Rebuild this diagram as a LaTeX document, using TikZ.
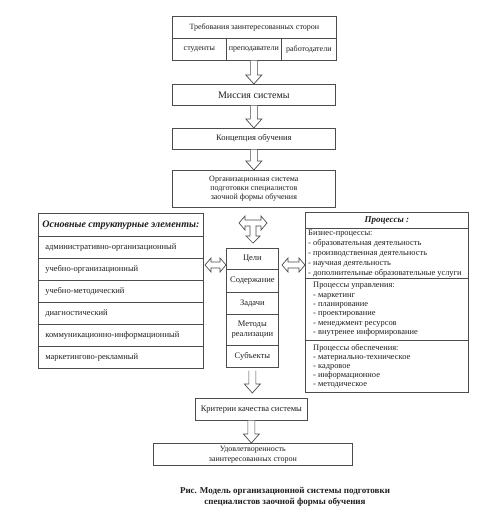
\documentclass[tikz,border=0pt]{standalone}
\usepackage{fontspec}
\setmainfont{Liberation Serif}
\usetikzlibrary{calc}
\definecolor{linec}{gray}{0.3}
\definecolor{txtc}{gray}{0.12}
\begin{document}
\begin{tikzpicture}[x=1pt,y=-1pt,
  box/.style={draw=linec, line width=0.7pt, inner sep=0pt, anchor=north west, text=txtc, align=center},
  fs8/.style={font=\fontsize{8}{9.5}\selectfont},
  fsc/.style={font=\fontsize{8.5}{10}\selectfont},
  lrow/.style={box, font=\fontsize{8.5}{10}\selectfont, minimum width=165, minimum height=22, text width=151, align=left, inner xsep=7pt},
  crow/.style={box, fsc, minimum width=52},
  psec/.style={box, minimum width=163},
  ptext/.style={anchor=north west, inner sep=0pt, align=left, text=txtc},
  blk/.style={draw=linec, line width=0.7pt, fill=white, line join=miter},
  downarr/.style={to path={let \p1=(\tikztostart), \p2=(\tikztotarget) in
     (\x1-3.5pt,\y1) -- (\x1-3.5pt,\y2+9pt) -- (\x1-8pt,\y2+9pt) -- (\x1,\y2)
     -- (\x1+8pt,\y2+9pt) -- (\x1+3.5pt,\y2+9pt) -- (\x1+3.5pt,\y1)}},
  hdbl/.style={to path={let \p1=(\tikztostart), \p2=(\tikztotarget) in
     (\x1,\y1) -- (\x1+6pt,\y1+7pt) -- (\x1+6pt,\y1+3pt) -- (\x2-6pt,\y1+3pt)
     -- (\x2-6pt,\y1+7pt) -- (\x2,\y1) -- (\x2-6pt,\y1-7pt) -- (\x2-6pt,\y1-3pt)
     -- (\x1+6pt,\y1-3pt) -- (\x1+6pt,\y1-7pt) -- cycle}}
]
\fill[white] (0,0) rectangle (487,525);
\useasboundingbox (0,0) rectangle (487,525);

% top block
\node[box, fs8, minimum width=164, minimum height=22] (req) at (172,16) {Требования заинтересованных сторон};
\node[box, fs8, minimum width=54, minimum height=22] (stud) at (172,38) {студенты};
\node[box, fs8, minimum width=55, minimum height=22] (prep) at (226,38) {преподаватели};
\node[box, fs8, minimum width=55, minimum height=22] (rab) at (281,38) {работодатели};

\node[box, font=\fontsize{10}{12}\selectfont, minimum width=163, minimum height=21] (mis) at (172,84) {Миссия системы};
\node[box, fsc, minimum width=163, minimum height=21] (conc) at (172,128) {Концепция обучения};
\node[box, font=\fontsize{8}{9}\selectfont, minimum width=163, minimum height=37] (org) at (172,170) {Организационная система\\подготовки специалистов\\заочной формы обучения};

% left block
\node[box, font=\fontsize{10}{11}\selectfont\bfseries\itshape, minimum width=165, minimum height=23] (lhead) at (38,213) {Основные структурные элементы:};
\node[lrow] (l1) at (38,236) {административно-организационный};
\node[lrow] (l2) at (38,258) {учебно-организационный};
\node[lrow] (l3) at (38,280) {учебно-методический};
\node[lrow] (l4) at (38,302) {диагностический};
\node[lrow] (l5) at (38,324) {коммуникационно-информационный};
\node[lrow] (l6) at (38,346) {маркетингово-рекламный};

% centre block
\node[crow, minimum height=21] (goal) at (226,248) {Цели};
\node[crow, minimum height=23] (cont) at (226,269) {Содержание};
\node[crow, minimum height=22] (task) at (226,292) {Задачи};
\node[crow, minimum height=31] (meth) at (226,314) {Методы\\реализации};
\node[crow, minimum height=22] (subj) at (226,345) {Субъекты};

% right block
\node[box, font=\fontsize{9}{11}\selectfont\bfseries\itshape, minimum width=163, minimum height=16] (phead) at (305,212) {Процессы :};
\node[psec, minimum height=50] (ps1) at (305,228) {};
\node[psec, minimum height=62] (ps2) at (305,278) {};
\node[psec, minimum height=52] (ps3) at (305,340) {};
\node[ptext, font=\fontsize{8.4}{10}\selectfont] (pt1) at (308,230) {Бизнес-процессы:\\- образовательная деятельность\\- производственная деятельность\\- научная деятельность\\- дополнительные образовательные услуги};
\node[ptext, font=\fontsize{8.4}{9.4}\selectfont] (pt2) at (313,282) {Процессы управления:\\- маркетинг\\- планирование\\- проектирование\\- менеджмент ресурсов\\- внутренее информирование};
\node[ptext, font=\fontsize{8.4}{9}\selectfont] (pt3) at (313,344) {Процессы обеспечения:\\- материально-техническое\\- кадровое\\- информационное\\- методическое};

% bottom
\node[box, fsc, minimum width=112, minimum height=22] (crit) at (195,398) {Критерии качества системы};
\node[box, font=\fontsize{8}{10}\selectfont, minimum width=199, minimum height=22] (sat) at (153,443) {Удовлетворенность\\заинтересованных сторон};

\node[font=\fontsize{9}{11}\selectfont\bfseries, align=center, text=txtc, inner sep=0pt] (cap) at (285,497) {Рис. Модель организационной системы подготовки\\специалистов заочной формы обучения};

% block arrows
\draw[blk] (prep.south) to[downarr] (mis.north);
\draw[blk] (mis.south) to[downarr] (conc.north);
\draw[blk] (conc.south) to[downarr] (org.north);
\draw[blk] ([yshift=-3pt]subj.south) to[downarr] ([yshift=5pt]crit.north);
\draw[blk] (crit.south) to[downarr] (sat.north);

\coordinate (la) at (205,265);
\coordinate (ra) at (282,265);
\draw[blk] (la) to[hdbl] (goal.west |- la);
\draw[blk] (ra) to[hdbl] (ps1.west |- ra);

\coordinate (tc) at (253,223);
\draw[blk] ([xshift=-14pt]tc) -- ++(6,-7) -- ++(0,4) -- ++(16,0) -- ++(0,-4) -- ++(6,7)
  -- ++(-6,7) -- ++(0,-4) -- ++(-5,0) -- ++(0,10) -- ++(4,0) -- ++(-7,7) -- ++(-7,-7)
  -- ++(4,0) -- ++(0,-10) -- ++(-5,0) -- ++(0,4) -- cycle;
\end{tikzpicture}
\end{document}
